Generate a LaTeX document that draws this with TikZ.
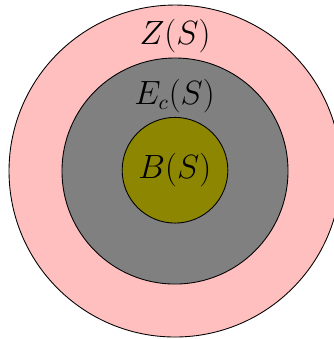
\documentclass[tikz,border=0pt]{standalone}
\begin{document}
\begin{tikzpicture}[
  ring/.style={draw=black, line width=0.45pt},
  lbl/.style={anchor=base, inner sep=0pt, font=\fontsize{16}{19}\selectfont}
]
\useasboundingbox (0,0) rectangle (6.036,6.127);
\begin{scope}
\clip (0,0) rectangle (6.036,6.127);
\fill[pink, ring] (3.163,3.036) circle [radius=3.0cm];
\fill[gray, ring] (3.163,3.036) circle [radius=2.043cm];
\fill[olive, ring] (3.163,3.05) circle [radius=0.955cm];
\end{scope}
\node[lbl] (z) at (3.163,5.326) {$Z(S)$};
\node[lbl] (e) at (3.155,4.242) {$E_c(S)$};
\node[lbl] (b) at (3.16,2.904) {$B(S)$};
\end{tikzpicture}
\end{document}
